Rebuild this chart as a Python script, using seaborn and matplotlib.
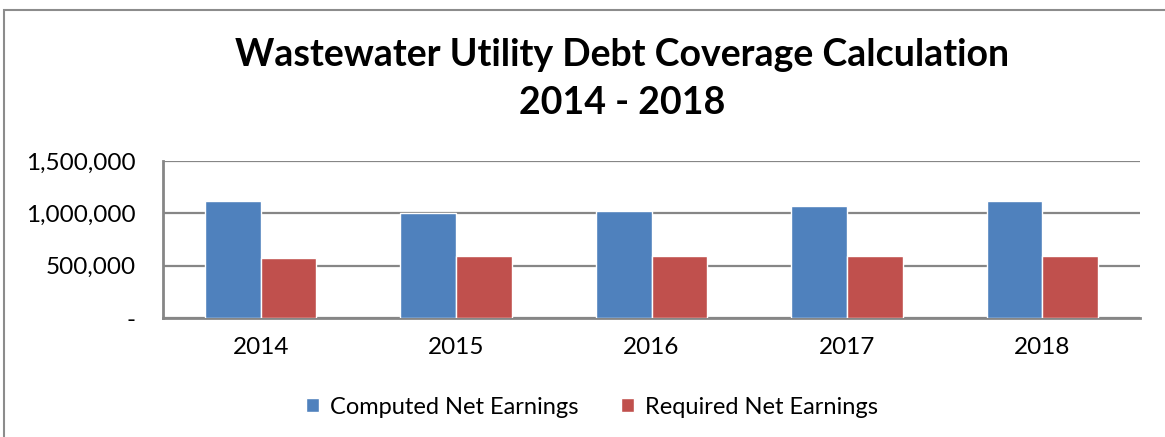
import pandas as pd
import matplotlib
matplotlib.use("Agg")
import matplotlib.pyplot as plt
import seaborn as sns
from matplotlib.patches import Rectangle

# values
years = ["2014", "2015", "2016", "2017", "2018"]
computed = [1115000, 1006000, 1019000, 1070000, 1121000]
required = [577000, 592000, 596000, 596000, 594000]
series = ["Computed Net Earnings", "Required Net Earnings"]
colors = ["#4F81BD", "#C0504D"]

df = pd.DataFrame({
    "year": years * 2,
    "value": computed + required,
    "series": [series[0]] * len(years) + [series[1]] * len(years),
})

sns.set_style("white")
plt.rcParams["font.family"] = ["Lato", "DejaVu Sans"]
plt.rcParams["text.color"] = "black"

fig = plt.figure(figsize=(11.65, 4.37), dpi=100)
ax = fig.add_axes([0.14, 0.2723, 0.8385, 0.3593])

sns.barplot(data=df, x="year", y="value", hue="series", palette=colors,
            width=0.57, saturation=1, ax=ax, zorder=3)

ax.set_ylim(0, 1500000)
ax.set_yticks([0, 500000, 1000000, 1500000])
ax.set_yticklabels(["-", "500,000", "1,000,000", "1,500,000"])
ax.yaxis.grid(True, color="#868686", linewidth=1.6, zorder=0)
ax.set_axisbelow(True)
ax.tick_params(axis="both", length=0, labelsize=17.5, colors="#000000")
ax.tick_params(axis="y", pad=20)
ax.tick_params(axis="x", pad=14)
ax.set_xlabel("")
ax.set_ylabel("")
for s in ["top", "right"]:
    ax.spines[s].set_visible(False)
for s in ["left", "bottom"]:
    ax.spines[s].set_color("#868686")
    ax.spines[s].set_linewidth(2)

ax.legend(loc="center", bbox_to_anchor=(592 / 1165, 1 - 407 / 437),
          bbox_transform=fig.transFigure, ncol=2, frameon=False,
          fontsize=17, handlelength=0.55, handleheight=0.55, handletextpad=0.45,
          columnspacing=1.8)

fig.text(0.534, 0.874, "Wastewater Utility Debt Coverage Calculation", ha="center",
         va="center", fontsize=27, fontweight="bold", color="black")
fig.text(0.534, 0.764, "2014 - 2018", ha="center", va="center", fontsize=27,
         fontweight="bold", color="black")

# outer chart border (runs off the right and bottom edges)
fig.patches.append(Rectangle((4 / 1165, -0.1), 1.2, 1.1 - 10 / 437,
                             transform=fig.transFigure, fill=False,
                             edgecolor="#8C8C8C", linewidth=1.5))

fig.savefig("out.png", dpi=100)
